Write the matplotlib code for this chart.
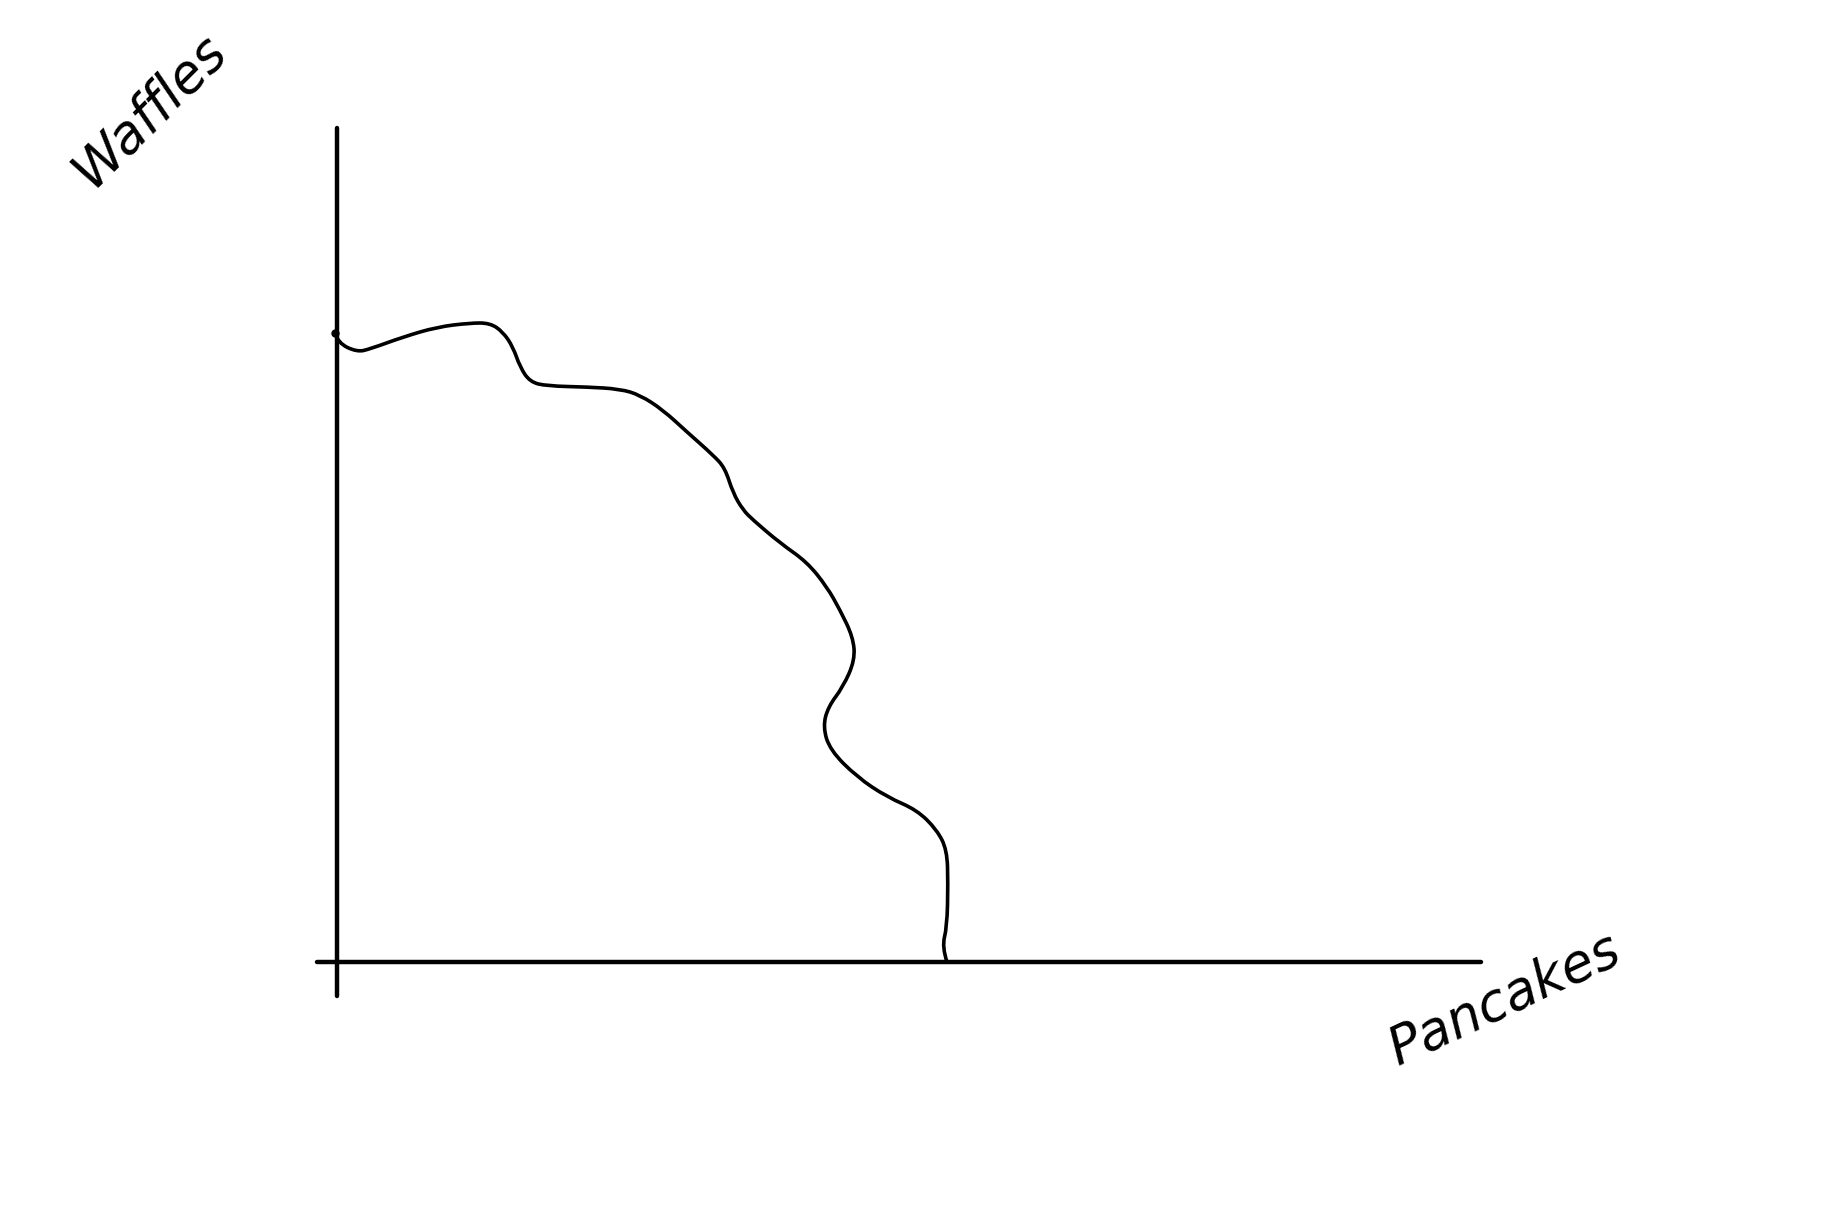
import matplotlib
matplotlib.use("Agg")
import matplotlib.pyplot as plt
from matplotlib.path import Path
from matplotlib.patches import PathPatch

# hand drawn frontier (arbitrary units)
pancakes = [-0.2, 0.1, 2.0, 3.3, 6.6, 10.0, 13.3, 15.3, 16.6, 17.6, 18.3, 19.3, 21.0,
            25.0, 28.3, 30.3, 32.6, 35.0, 37.6, 38.8, 39.6, 40.6, 41.6, 44.3, 47.0,
            49.0, 50.3, 51.6, 51.8, 50.6, 49.1, 48.6, 49.3, 52.0, 55.0, 58.0, 60.0,
            61.0, 61.1, 61.0, 60.5, 61.0]
waffles = [62.9, 61.9, 61.0, 61.3, 62.5, 63.5, 63.9, 63.9, 63.0, 61.5, 59.5, 58.0, 57.6,
           57.5, 57.3, 56.7, 55.2, 53.0, 50.7, 49.4, 46.9, 45.2, 44.2, 41.9, 40.0,
           37.5, 35.2, 32.5, 30.2, 27.5, 25.5, 23.5, 21.2, 18.5, 16.5, 15.2, 13.2,
           11.2, 7.9, 3.5, 1.5, 0.0]

x_label = "Pancakes"
y_label = "Waffles"

fig = plt.figure(figsize=(18.23, 12.16), dpi=100)
ax = fig.add_axes([0, 0, 1, 1])
ax.set_xlim(-33.7, 148.6)
ax.set_ylim(-25.4, 96.2)

# smooth the pen stroke: read points act as control points of quadratic curves
pts = list(zip(pancakes, waffles))
verts = [pts[0]]
codes = [Path.MOVETO]
for i in range(1, len(pts) - 1):
    mid = ((pts[i][0] + pts[i + 1][0]) / 2, (pts[i][1] + pts[i + 1][1]) / 2)
    if i == len(pts) - 2:
        mid = pts[-1]
    verts += [pts[i], mid]
    codes += [Path.CURVE3, Path.CURVE3]
ax.add_patch(PathPatch(Path(verts, codes), facecolor="none", edgecolor="black",
                       lw=2.6, capstyle="round", joinstyle="round"))
# little pen blob where the stroke starts
ax.plot(pancakes[:1], waffles[:1], "o", color="black", ms=5)

# axes drawn as crossing spines
for s in ["top", "right"]:
    ax.spines[s].set_visible(False)
ax.spines["left"].set_position(("data", 0))
ax.spines["bottom"].set_position(("data", 0))
ax.spines["left"].set_bounds(-3.4, 83.4)
ax.spines["bottom"].set_bounds(-2.0, 114.4)
for s in ["left", "bottom"]:
    ax.spines[s].set_linewidth(3.2)
    ax.spines[s].set_capstyle("round")
ax.set_xticks([])
ax.set_yticks([])

ax.text(-18.7, 85.2, y_label, fontsize=38, fontstyle="italic", rotation=45,
        ha="center", va="center")
ax.text(116.8, -3.8, x_label, fontsize=38, fontstyle="italic", rotation=25,
        ha="center", va="center")

fig.savefig("out.png", dpi=100)
